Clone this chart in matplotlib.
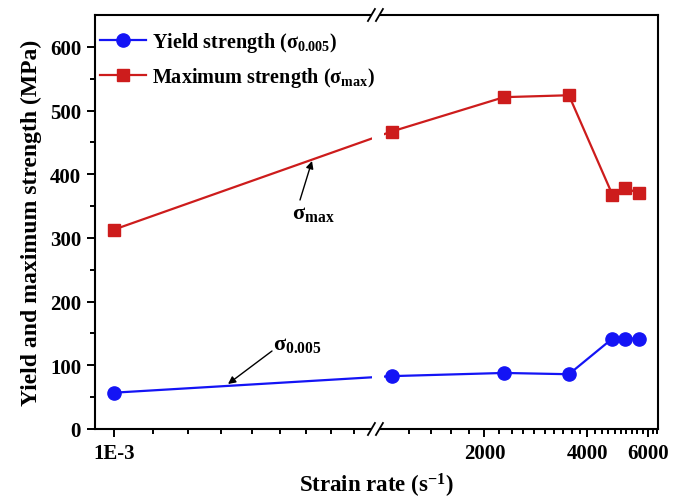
import numpy as np
import matplotlib
matplotlib.use('Agg')
import matplotlib.pyplot as plt
from matplotlib.patches import Rectangle
from matplotlib.lines import Line2D

plt.rcParams['font.family'] = ['Liberation Serif', 'DejaVu Serif']
plt.rcParams['font.weight'] = 'bold'
plt.rcParams['mathtext.fontset'] = 'custom'
plt.rcParams['mathtext.rm'] = 'Liberation Serif:bold'
plt.rcParams['mathtext.it'] = 'Liberation Serif:bold'
plt.rcParams['mathtext.bf'] = 'Liberation Serif:bold'

# strain rate in 1/s: one quasi-static test, the rest on the split Hopkinson bar
strain_rate = [1e-3, 1070, 2280, 3530, 4730, 5150, 5640]
yield_strength = [57, 83, 88, 86, 142, 142, 142]
max_strength = [313, 467, 521, 524, 368, 379, 370]

xtick_values = [1e-3, 2000, 4000, 6000]
xtick_labels = ['1E-3', '2000', '4000', '6000']
ytick_values = [0, 100, 200, 300, 400, 500, 600]

BLUE = '#1414f5'
RED = '#cd1c1c'

# broken x axis: a stretched log piece around 1E-3 glued to a log piece
# for the dynamic rates; both pieces meet at BREAK_POS
LEFT_REF, LEFT_POS, LEFT_DEC = 1e-3, 114.0, 942.0
RIGHT_REF, RIGHT_POS, RIGHT_DEC = 2000.0, 484.5, 342.0
BREAK_POS = 376.0


def forward(x):
    x = np.clip(np.asarray(x, dtype=float), 1e-12, None)
    left = LEFT_POS + LEFT_DEC * np.log10(x / LEFT_REF)
    right = RIGHT_POS + RIGHT_DEC * np.log10(x / RIGHT_REF)
    return np.where(left < BREAK_POS, left, np.maximum(right, BREAK_POS))


def inverse(u):
    u = np.asarray(u, dtype=float)
    left = LEFT_REF * 10 ** ((u - LEFT_POS) / LEFT_DEC)
    right = RIGHT_REF * 10 ** ((u - RIGHT_POS) / RIGHT_DEC)
    return np.where(u < BREAK_POS, left, right)


fig = plt.figure(figsize=(6.8, 5.02), dpi=100)
ax = fig.add_axes([95 / 680, 72 / 502, 563 / 680, 414 / 502])
ax.set_xscale('function', functions=(forward, inverse))

xmin, xmax = 0.955e-3, 6430
ax.set_xlim(xmin, xmax)
ax.set_ylim(0, 650)

ax.plot(strain_rate, yield_strength, '-o', color=BLUE, lw=1.6, ms=9.5,
        mec=BLUE, label='Yield strength (σ$_{0.005}$)', zorder=2)
ax.plot(strain_rate, max_strength, '-s', color=RED, lw=1.6, ms=8.8,
        mec=RED, label='Maximum strength (σ$_{\\mathrm{max}}$)', zorder=2)

# ticks
ax.set_xticks(xtick_values, xtick_labels)
minor_left = [1.1e-3, 1.2e-3, 1.3e-3, 1.4e-3, 1.5e-3, 1.6e-3, 1.7e-3, 1.8e-3]
minor_right = [v for v in np.arange(1200, 6401, 200) if v not in xtick_values]
ax.set_xticks(minor_left + minor_right, minor=True)
ax.set_yticks(ytick_values)
ax.set_yticks(np.arange(50, 650, 100), minor=True)
ax.tick_params(which='both', direction='out', width=1.4, top=False, right=False,
               labelsize=15)
ax.tick_params(which='major', length=6, pad=4)
ax.tick_params(which='minor', length=3.5)
for lab in ax.get_xticklabels() + ax.get_yticklabels():
    lab.set_fontweight('bold')
for sp in ax.spines.values():
    sp.set_linewidth(1.5)

ax.set_xlabel('Strain rate (s$^{-1}$)', fontsize=16.5, fontweight='bold', labelpad=6)
ax.set_ylabel('Yield and maximum strength (MPa)', fontsize=17, fontweight='bold',
              labelpad=6)

# axis break: cut the data lines, open the spines and mark with //
u0, u1 = forward(xmin), forward(xmax)
span_px = 563.0
bf = (BREAK_POS - u0) / (u1 - u0)
px_x = 1 / span_px
px_y = 1 / 414.0
ax.add_patch(Rectangle((bf - 4 * px_x, 0.003), 12 * px_x, 0.994,
                       transform=ax.transAxes, color='white', zorder=2.2, lw=0))
for yb in (0.0, 1.0):
    ax.add_patch(Rectangle((bf - 5 * px_x, yb - 3 * px_y), 9 * px_x, 6 * px_y,
                           transform=ax.transAxes, color='white', zorder=3,
                           lw=0, clip_on=False))
    for off in (-4.5, 3.5):
        ax.add_line(Line2D([bf + (off - 3.5) * px_x, bf + (off + 3.5) * px_x],
                           [yb - 6 * px_y, yb + 6 * px_y],
                           transform=ax.transAxes, color='black', lw=1.3,
                           zorder=4, clip_on=False))

leg = ax.legend(loc='upper left', bbox_to_anchor=(0.009, 0.964), frameon=False,
                fontsize=14.5, handlelength=2.3, handletextpad=0.3,
                labelspacing=0.55, borderaxespad=0, borderpad=0)
for t in leg.get_texts():
    t.set_fontweight('bold')


def fpx(x, y):
    return (x, 502 - y)


arrow = dict(arrowstyle='-|>', color='black', lw=1.0, mutation_scale=11,
             shrinkA=0, shrinkB=0)
ax.annotate('', xy=fpx(312, 162), xytext=fpx(300, 201), xycoords='figure pixels',
            textcoords='figure pixels', arrowprops=arrow)
ax.annotate('', xy=fpx(228, 385), xytext=fpx(272, 352), xycoords='figure pixels',
            textcoords='figure pixels', arrowprops=arrow)
fig.text(292 / 680, 1 - 219 / 502, 'σ$_{\\mathrm{max}}$', fontsize=16,
         fontweight='bold', ha='left', va='baseline')
fig.text(273 / 680, 1 - 350 / 502, 'σ$_{0.005}$', fontsize=16,
         fontweight='bold', ha='left', va='baseline')

fig.savefig('out.png', dpi=100)
